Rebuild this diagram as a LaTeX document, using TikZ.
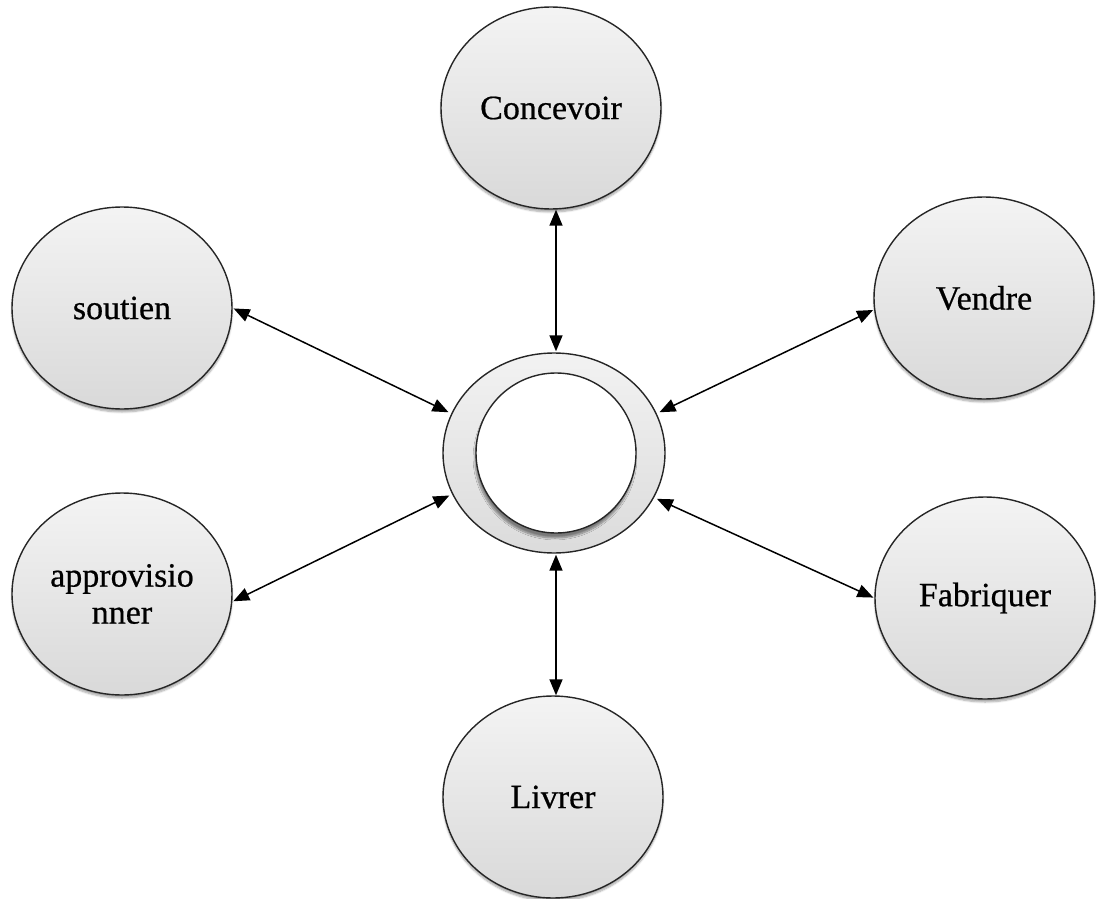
\documentclass[tikz,border=0pt]{standalone}
\usepackage{fontspec}
\setmainfont{Liberation Serif}
\newfontfamily\lblfont{Liberation Serif}[FakeBold=0.6]
\usetikzlibrary{shapes.geometric,arrows.meta,shadows.blur}
\begin{document}
\begin{tikzpicture}[x=1pt,y=-1pt,
  bubble/.style={ellipse, draw=black!85, line width=1.4pt, inner sep=0pt,
    minimum width=220pt, minimum height=202pt,
    top color=gray!9, bottom color=gray!30,
    blur shadow={shadow xshift=0pt, shadow yshift=-3pt, shadow blur steps=6, shadow opacity=35},
    font=\lblfont\fontsize{34}{37}\selectfont, align=center},
  ring/.style={ellipse, draw=black!85, line width=1.4pt, inner sep=0pt,
    minimum width=222pt, minimum height=200pt,
    top color=gray!10, bottom color=gray!28},
  core/.style={circle, draw=black!85, line width=1.4pt, inner sep=0pt,
    minimum size=160pt, fill=white,
    blur shadow={shadow xshift=-1pt, shadow yshift=-5pt, shadow blur steps=8, shadow opacity=45}},
  link/.style={line width=1.5pt, {Triangle[length=16pt,width=13pt]}-{Triangle[length=16pt,width=13pt]}}]
\useasboundingbox (0,0) rectangle (1097,899);

% central hub
\node[ring] (hub) at (554,453) {};
\node[core] (core) at (556,453) {};

% surrounding activities
\node[bubble] (conc) at (551,108) {Concevoir};
\node[bubble] (sout) at (122,308) {soutien};
\node[bubble] (vend) at (984,298) {Vendre};
\node[bubble] (appr) at (122,594) {approvisio\\nner};
\node[bubble] (fabr) at (985,598) {Fabriquer};
\node[bubble] (livr) at (553,797) {Livrer};

% links to the hub
\draw[link] (hub.north -| 556,0) ++(0,-1) -- (556,0 |- conc.south);
\draw[link] (hub.south -| 556,0) ++(0,1) -- (556,0 |- livr.north);
\draw[link, shorten <=3pt, shorten >=1pt] (hub.159) -- (sout.east);
\draw[link, shorten <=3pt, shorten >=1pt] (hub.21) -- (vend.186);
\draw[link, shorten <=3pt, shorten >=1pt] (hub.202) -- (appr.-4);
\draw[link, shorten <=3pt, shorten >=1pt] (hub.336) -- (fabr.west);
\end{tikzpicture}
\end{document}
